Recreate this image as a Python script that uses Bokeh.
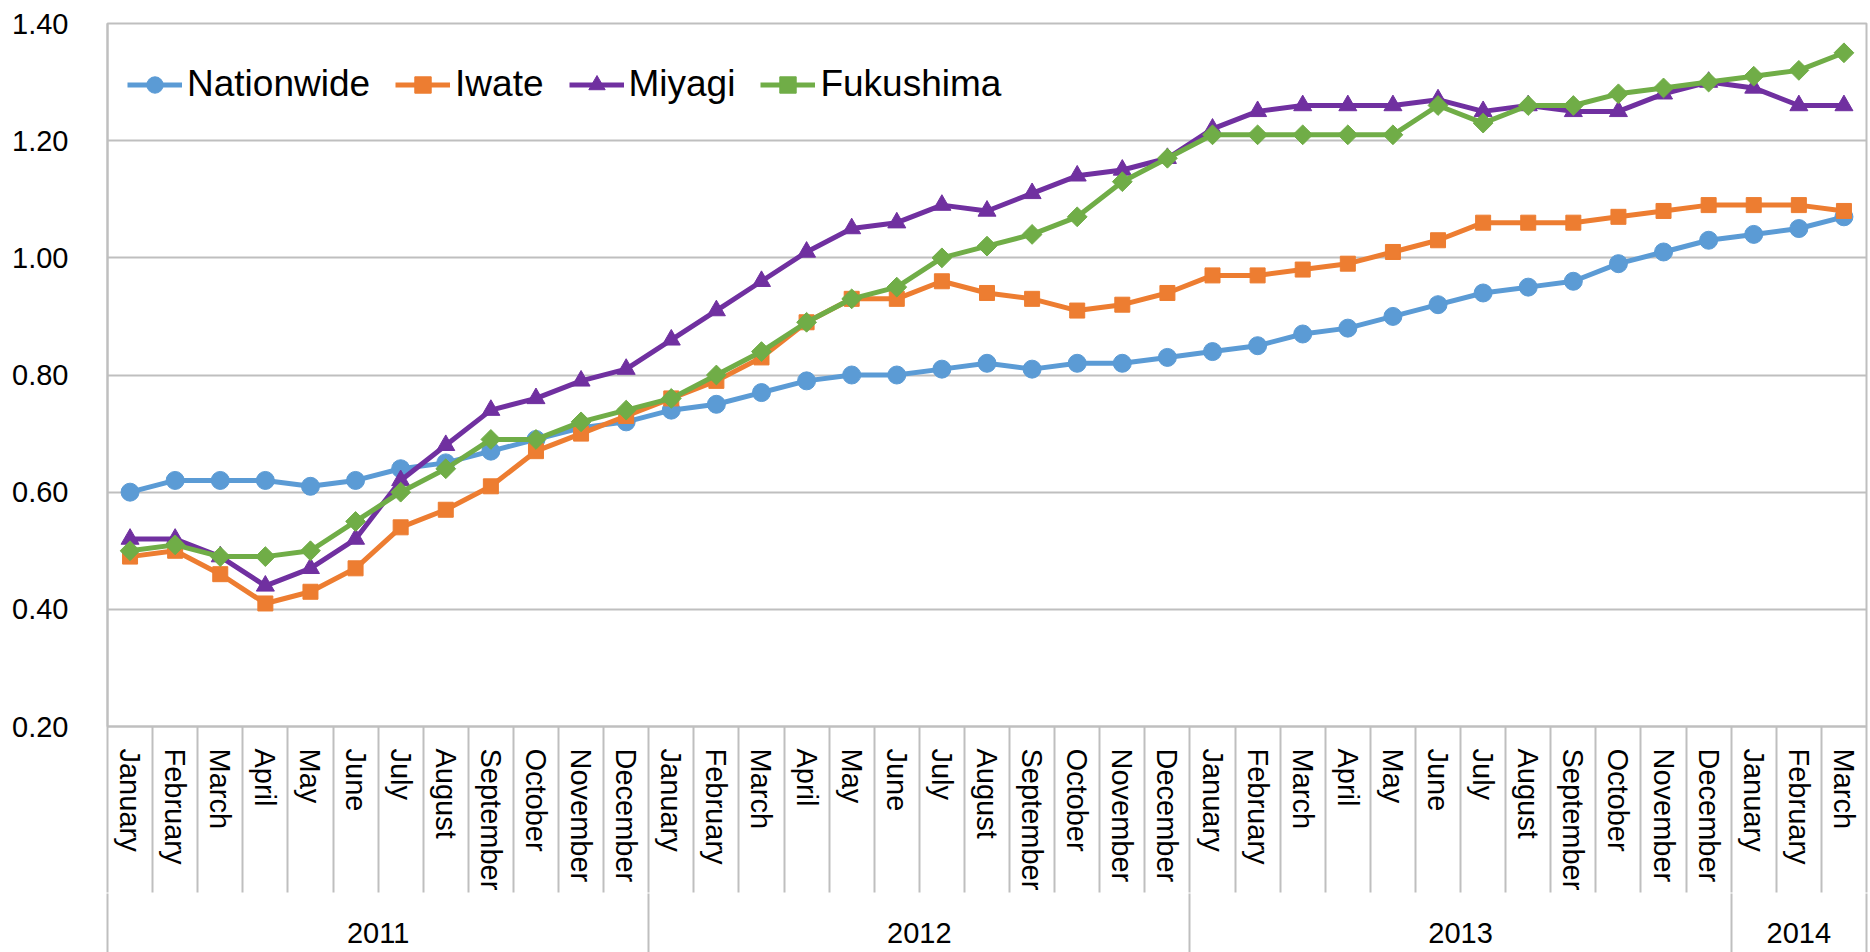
import math
from bokeh.plotting import figure
from bokeh.models import (Range1d, LinearAxis, FixedTicker,
                          NumeralTickFormatter, ColumnDataSource)
from bokeh.embed import file_html
from bokeh.resources import INLINE

# ---------------- data ----------------
month_names = ["January", "February", "March", "April", "May", "June", "July",
               "August", "September", "October", "November", "December"]
years = ["2011"] * 12 + ["2012"] * 12 + ["2013"] * 12 + ["2014"] * 3
months = month_names * 3 + month_names[:3]

nationwide = [0.60, 0.62, 0.62, 0.62, 0.61, 0.62, 0.64, 0.65, 0.67, 0.69, 0.71, 0.72,
              0.74, 0.75, 0.77, 0.79, 0.80, 0.80, 0.81, 0.82, 0.81, 0.82, 0.82, 0.83,
              0.84, 0.85, 0.87, 0.88, 0.90, 0.92, 0.94, 0.95, 0.96, 0.99, 1.01, 1.03,
              1.04, 1.05, 1.07]
iwate = [0.49, 0.50, 0.46, 0.41, 0.43, 0.47, 0.54, 0.57, 0.61, 0.67, 0.70, 0.73,
         0.76, 0.79, 0.83, 0.89, 0.93, 0.93, 0.96, 0.94, 0.93, 0.91, 0.92, 0.94,
         0.97, 0.97, 0.98, 0.99, 1.01, 1.03, 1.06, 1.06, 1.06, 1.07, 1.08, 1.09,
         1.09, 1.09, 1.08]
miyagi = [0.52, 0.52, 0.49, 0.44, 0.47, 0.52, 0.62, 0.68, 0.74, 0.76, 0.79, 0.81,
          0.86, 0.91, 0.96, 1.01, 1.05, 1.06, 1.09, 1.08, 1.11, 1.14, 1.15, 1.17,
          1.22, 1.25, 1.26, 1.26, 1.26, 1.27, 1.25, 1.26, 1.25, 1.25, 1.28, 1.30,
          1.29, 1.26, 1.26]
fukushima = [0.50, 0.51, 0.49, 0.49, 0.50, 0.55, 0.60, 0.64, 0.69, 0.69, 0.72, 0.74,
             0.76, 0.80, 0.84, 0.89, 0.93, 0.95, 1.00, 1.02, 1.04, 1.07, 1.13, 1.17,
             1.21, 1.21, 1.21, 1.21, 1.21, 1.26, 1.23, 1.26, 1.26, 1.28, 1.29, 1.30,
             1.31, 1.32, 1.35]
y_ticks = [0.20, 0.40, 0.60, 0.80, 1.00, 1.20, 1.40]

series_names = ["Nationwide", "Iwate", "Miyagi", "Fukushima"]
series_values = [nationwide, iwate, miyagi, fukushima]

# ---------------- styles ----------------
colors = ["#5B9BD5", "#ED7D31", "#7030A0", "#70AD47"]
markers = ["circle", "square", "triangle", "square"]
marker_sizes = [18, 15, 18, 14]
marker_angles = [0, 0, 0, math.pi / 4]
FONT = "Liberation Sans"
GRID = "#BFBFBF"

n = len(months)
# category slots: each month occupies one unit, its point sits at the slot centre
slot_centers = [i + 0.5 for i in range(n)]

p = figure(width=1870, height=952,
           x_range=Range1d(0, n),
           y_range=Range1d(y_ticks[0], y_ticks[-1]),
           x_axis_location=None,
           output_backend="svg", toolbar_location=None,
           min_border_left=107, min_border_top=23, min_border_right=4,
           min_border_bottom=226)
p.background_fill_color = "white"
p.border_fill_color = "white"
p.outline_line_color = GRID
p.outline_line_width = 2
for g in p.xgrid:
    g.visible = False
p.ygrid.grid_line_color = GRID
p.ygrid.grid_line_width = 2

# y axis
yax = p.yaxis[0]
yax.ticker = FixedTicker(ticks=y_ticks)
yax.formatter = NumeralTickFormatter(format="0.00")
yax.major_tick_out = 0
yax.major_tick_in = 0
yax.minor_tick_out = 0
yax.minor_tick_in = 0
yax.axis_line_color = GRID
yax.axis_line_width = 2
yax.major_label_standoff = 39
yax.major_label_text_font = FONT
yax.major_label_text_font_size = "29px"
yax.major_label_text_color = "black"

# month-level category axis (minor ticks = slot separators)
month_axis = LinearAxis(
    ticker=FixedTicker(ticks=slot_centers, minor_ticks=list(range(n + 1))),
    major_label_overrides={c: m for c, m in zip(slot_centers, months)},
    major_label_orientation="vertical",
    major_tick_out=0, major_tick_in=0,
    minor_tick_out=0, minor_tick_in=-166,
    minor_tick_line_color=GRID, minor_tick_line_width=2,
    axis_line_color=GRID, axis_line_width=2,
    major_label_standoff=22,
    major_label_text_font=FONT, major_label_text_font_size="29px",
    major_label_text_color="black")
p.add_layout(month_axis, "below")

# year-level category axis
year_list = []
for y in years:
    if y not in year_list:
        year_list.append(y)
bounds = [0]
for y in year_list:
    bounds.append(bounds[-1] + years.count(y))
year_centers = [(a + b) / 2 for a, b in zip(bounds[:-1], bounds[1:])]
year_axis = LinearAxis(
    ticker=FixedTicker(ticks=year_centers, minor_ticks=bounds),
    major_label_overrides={c: y for c, y in zip(year_centers, year_list)},
    major_tick_out=0, major_tick_in=0,
    minor_tick_out=0, minor_tick_in=-80,
    minor_tick_line_color=GRID, minor_tick_line_width=2,
    axis_line_color=None,
    major_label_standoff=29,
    major_label_text_font=FONT, major_label_text_font_size="29px",
    major_label_text_color="black")
p.add_layout(year_axis, "below")

# series
src = ColumnDataSource(dict(x=slot_centers, **{nm: v for nm, v in zip(series_names, series_values)}))
for nm, col, mk, sz, ang in zip(series_names, colors, markers, marker_sizes, marker_angles):
    p.line(x="x", y=nm, source=src, line_color=col, line_width=5, legend_label=nm)
    p.scatter(x="x", y=nm, source=src, marker=mk, size=sz, angle=ang,
              fill_color=col, line_color=col, line_width=1, legend_label=nm)

lg = p.legend[0]
lg.location = (20, 621)
lg.orientation = "horizontal"
lg.label_text_font = FONT
lg.label_text_font_size = "37px"
lg.label_text_color = "black"
lg.glyph_width = 55
lg.glyph_height = 41
lg.label_height = 41
lg.label_standoff = 5
lg.spacing = 25
lg.padding = 0
lg.margin = 0
lg.border_line_color = None
lg.background_fill_alpha = 0

open("out.html", "w").write(file_html(p, INLINE))
